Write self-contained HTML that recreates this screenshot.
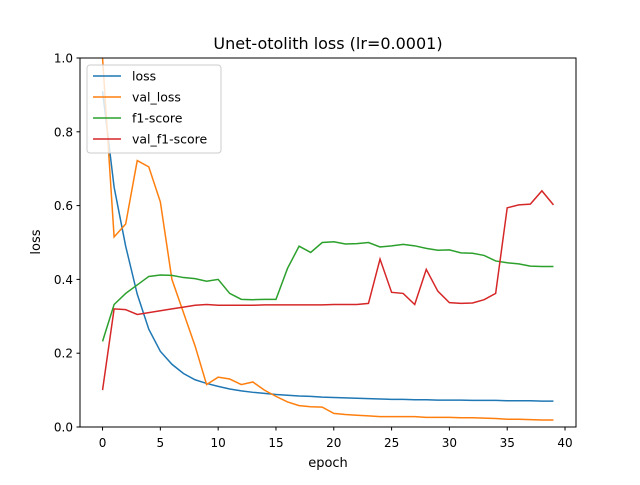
<!DOCTYPE html>
<html><head><meta charset="utf-8"><style>
body{margin:0;background:#fff}
svg{font-family:"DejaVu Sans","Liberation Sans",sans-serif}
</style></head><body>
<svg id="chart" width="640" height="480" xmlns="http://www.w3.org/2000/svg">
<rect width="640" height="480" fill="#fff"/>
<defs><clipPath id="clip"><rect x="80" y="58" width="496" height="369"/></clipPath></defs>
<text x="328" y="49" text-anchor="middle" font-size="16">Unet-otolith loss (lr=0.0001)</text>
<g id="plot" clip-path="url(#clip)"></g>
<g id="axes"></g>
<rect x="80" y="58" width="496" height="369" fill="none" stroke="#000" stroke-width="1"/>
<text x="328" y="467" text-anchor="middle" font-size="13">epoch</text>
<text x="0" y="0" transform="translate(40,242) rotate(-90)" text-anchor="middle" font-size="13">loss</text>
<g id="legend"></g>
</svg>
<script>
const epochs=[...Array(40).keys()];
const lossVals=[0.91,0.65,0.49,0.36,0.265,0.205,0.17,0.145,0.128,0.118,0.11,0.103,0.098,0.094,0.091,0.088,0.086,0.084,0.083,0.081,0.08,0.079,0.078,0.077,0.076,0.075,0.075,0.074,0.074,0.073,0.073,0.073,0.072,0.072,0.072,0.071,0.071,0.071,0.07,0.07];
const valLossVals=[1.0,0.515,0.55,0.722,0.705,0.61,0.40,0.31,0.22,0.115,0.135,0.13,0.115,0.122,0.10,0.083,0.068,0.058,0.055,0.054,0.037,0.034,0.032,0.03,0.028,0.028,0.028,0.028,0.026,0.026,0.026,0.025,0.025,0.024,0.023,0.021,0.021,0.02,0.019,0.019];
const f1Vals=[0.232,0.332,0.362,0.385,0.408,0.412,0.411,0.405,0.402,0.395,0.40,0.362,0.346,0.345,0.346,0.346,0.43,0.49,0.473,0.50,0.502,0.496,0.497,0.50,0.488,0.491,0.495,0.491,0.484,0.479,0.48,0.472,0.471,0.465,0.45,0.445,0.442,0.436,0.435,0.435];
const valF1Vals=[0.10,0.32,0.318,0.305,0.31,0.315,0.32,0.325,0.33,0.332,0.33,0.33,0.33,0.33,0.331,0.331,0.331,0.331,0.331,0.331,0.332,0.332,0.332,0.335,0.455,0.365,0.362,0.332,0.427,0.368,0.337,0.335,0.336,0.345,0.362,0.594,0.602,0.604,0.64,0.602];
const xTicks=[0,5,10,15,20,25,30,35,40];
const yTicks=[0.0,0.2,0.4,0.6,0.8,1.0];
const seriesNames=["loss","val_loss","f1-score","val_f1-score"];
const colors=["#1f77b4","#ff7f0e","#2ca02c","#d62728"];
const NS="http://www.w3.org/2000/svg";
const X=v=>80+(v+1.95)/42.9*496;
const Y=v=>427-v*369;
function mk(t,a,p){const e=document.createElementNS(NS,t);for(const k in a)e.setAttribute(k,a[k]);p.appendChild(e);return e;}
const axes=document.getElementById('axes');
xTicks.forEach(t=>{
 const l=mk('line',{x1:X(t),x2:X(t),y1:427,y2:430.5,stroke:'#000'},axes);
 
 
 const s=mk('text',{x:X(t),y:447,'text-anchor':'middle','font-size':12},axes);s.textContent=t;
 
 
});
yTicks.forEach(t=>{
 const l=mk('line',{x1:76.5,x2:80,y1:Y(t),y2:Y(t),stroke:'#000'},axes);
 
 
 const s=mk('text',{x:73,y:Y(t)+4.5,'text-anchor':'end','font-size':12},axes);s.textContent=t.toFixed(1);
 
 
});
const plot=document.getElementById('plot');
[lossVals,valLossVals,f1Vals,valF1Vals].forEach((vals,i)=>{
 const p=mk('polyline',{points:vals.map((v,j)=>X(epochs[j])+','+Y(v)).join(' '),fill:'none',stroke:colors[i],'stroke-width':1.5},plot);
 
 
});
const lg=document.getElementById('legend');
const box=mk('rect',{x:87,y:65,width:134,height:88,rx:3,fill:'#fff','fill-opacity':0.8,stroke:'#ccc'},lg);


seriesNames.forEach((n,i)=>{
 const y=76+i*21;
 const l=mk('line',{x1:93,x2:121,y1:y,y2:y,stroke:colors[i],'stroke-width':1.5},lg);
 
 
 const t=mk('text',{x:132,y:y+4.5,'font-size':12.5},lg);t.textContent=n;
 
 
});
</script>
</body></html>
